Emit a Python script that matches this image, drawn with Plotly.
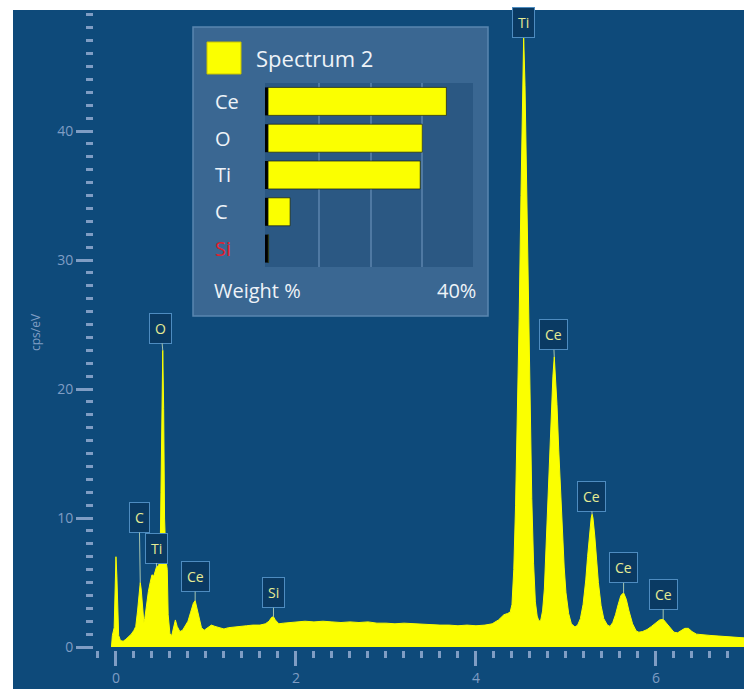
import plotly.graph_objects as go
import numpy as np

# ---- EDS spectrum (energy in keV, intensity in cps/eV) ----
energy_kev = [
    -0.05, -0.04, -0.02, -0.01, 0.00, 0.01, 0.02, 0.03, 0.05, 0.08,
    0.11, 0.14, 0.17, 0.20, 0.22, 0.24, 0.26, 0.27, 0.28, 0.30,
    0.31, 0.32, 0.34, 0.36, 0.38, 0.40, 0.42, 0.44, 0.45, 0.47,
    0.49, 0.50, 0.51, 0.52, 0.53, 0.54, 0.555, 0.57, 0.58, 0.60,
    0.62, 0.64, 0.66, 0.68, 0.71, 0.74, 0.77, 0.80, 0.83, 0.86,
    0.88, 0.90, 0.92, 0.95, 0.98, 1.02, 1.06, 1.10, 1.15, 1.20,
    1.25, 1.30, 1.38, 1.45, 1.52, 1.60, 1.66, 1.70, 1.73, 1.75,
    1.77, 1.81, 1.86, 1.92, 2.00, 2.10, 2.20, 2.30, 2.40, 2.50,
    2.60, 2.70, 2.80, 2.90, 3.00, 3.10, 3.20, 3.30, 3.40, 3.50,
    3.60, 3.70, 3.80, 3.90, 4.00, 4.10, 4.18, 4.25, 4.31, 4.35,
    4.38, 4.40, 4.42, 4.44, 4.46, 4.48, 4.50, 4.515, 4.53, 4.545,
    4.56, 4.58, 4.60, 4.62, 4.64, 4.66, 4.68, 4.70, 4.72, 4.74,
    4.76, 4.78, 4.80, 4.82, 4.84, 4.855, 4.87, 4.885, 4.90, 4.92,
    4.94, 4.96, 4.98, 5.00, 5.03, 5.06, 5.10, 5.13, 5.16, 5.19,
    5.22, 5.24, 5.26, 5.28, 5.29, 5.30, 5.32, 5.34, 5.36, 5.39,
    5.42, 5.46, 5.49, 5.52, 5.55, 5.58, 5.61, 5.64, 5.67, 5.70,
    5.74, 5.78, 5.81, 5.85, 5.90, 5.95, 6.00, 6.04, 6.08, 6.11,
    6.15, 6.20, 6.24, 6.28, 6.32, 6.36, 6.40, 6.45, 6.50, 6.60,
    6.70, 6.80, 6.90, 7.00,
]
counts_cps_ev = [
    0.0, 0.9, 1.5, 3.5, 7.0, 5.5, 1.8, 0.9, 0.5, 0.45,
    0.6, 0.8, 1.0, 1.3, 1.6, 2.8, 4.6, 5.0, 4.5, 2.6,
    1.9, 2.2, 3.5, 4.3, 5.0, 5.6, 5.5, 5.9, 6.2, 6.3,
    6.6, 12.0, 19.0, 23.0, 18.5, 10.0, 6.8, 6.0, 2.5, 1.0,
    0.9, 1.4, 2.1, 1.6, 1.2, 1.3, 1.6, 2.0, 2.7, 3.4,
    3.6, 3.0, 2.2, 1.5, 1.3, 1.5, 1.7, 1.6, 1.5, 1.4,
    1.5, 1.55, 1.6, 1.65, 1.7, 1.7, 1.8, 2.0, 2.3, 2.35,
    2.1, 1.8, 1.85, 1.9, 1.95, 2.0, 1.95, 2.0, 1.95, 1.9,
    1.95, 1.9, 1.95, 1.85, 1.85, 1.8, 1.85, 1.8, 1.75, 1.75,
    1.7, 1.7, 1.65, 1.7, 1.65, 1.7, 1.8, 2.1, 2.5, 2.6,
    2.7, 3.3, 6.0, 11.0, 17.5, 25.5, 35.0, 42.5, 47.3, 43.5,
    37.5, 28.0, 19.0, 11.5, 6.5, 3.5, 2.4, 2.0, 2.1, 2.8,
    4.5, 8.0, 11.8, 15.0, 18.5, 21.0, 22.5, 21.0, 18.8, 15.2,
    12.0, 9.0, 6.2, 4.2, 2.6, 1.8, 1.55, 1.7, 2.2, 3.3,
    5.2, 7.0, 8.8, 10.0, 10.3, 10.0, 8.6, 6.8, 5.0, 3.2,
    2.2, 1.7, 1.6, 1.9, 2.5, 3.3, 4.0, 4.2, 3.7, 2.8,
    1.8, 1.25, 1.15, 1.2, 1.35, 1.6, 1.9, 2.1, 2.15, 1.9,
    1.5, 1.15, 1.1, 1.3, 1.45, 1.45, 1.2, 1.0, 0.95, 0.9,
    0.85, 0.8, 0.75, 0.7,
]

# ---- identified peaks ----
peak_names = ["Ti", "O", "C", "Ti", "Ce", "Si", "Ce", "Ce", "Ce", "Ce"]
peak_energy = [4.53, 0.52, 0.27, 0.45, 0.88, 1.75, 4.87, 5.29, 5.64, 6.08]
# label box offsets from the peak apex, in pixels
peak_offsets = [(0, -14), (-2, -22), (-1, -65), (0, -19), (0, -24),
                (0, -24), (-1, -22), (-1, -18), (0, -25), (0, -25)]

# ---- quantification (weight %) ----
elements = ["Ce", "O", "Ti", "C", "Si"]
weight_pct = [34.8, 30.1, 29.7, 4.3, 0.1]
element_colors = ["#eef3f8", "#eef3f8", "#eef3f8", "#eef3f8", "#e3202c"]

x_ticks = [0, 2, 4, 6]
y_ticks = [0, 10, 20, 30, 40]

BG = "#0e4a7a"
TICK = "#7f9dc4"
YELLOW = "#fbff00"
FONT = "Open Sans"

W, H = 744, 689
ML, MR, MT, MB = 94, 0, 10, 39
pw, ph = W - ML - MR, H - MT - MB


def px_x(px):
    return (px - ML) / pw


def px_y(py):
    return (H - MB - py) / ph


fig = go.Figure()

fig.add_trace(go.Scatter(
    x=energy_kev, y=counts_cps_ev, mode="lines",
    line=dict(color=YELLOW, width=1), fill="tozeroy", fillcolor=YELLOW,
    hoverinfo="skip", showlegend=False,
))

# inset weight % bars: black base strip + yellow bar
fig.add_trace(go.Bar(
    y=elements, x=[0.6] * len(elements), base=[-0.6] * len(elements),
    orientation="h", marker=dict(color="#000000", line=dict(width=0)),
    xaxis="x2", yaxis="y2", showlegend=False, hoverinfo="skip",
))
fig.add_trace(go.Bar(
    y=elements, x=weight_pct, orientation="h",
    marker=dict(color=YELLOW, line=dict(color="rgba(20,30,20,0.7)", width=1)),
    xaxis="x2", yaxis="y2", showlegend=False, hoverinfo="skip",
))

shapes = [
    # dark blue background
    dict(type="rect", xref="paper", yref="paper", x0=px_x(13), x1=px_x(W + 2),
         y0=px_y(H + 2), y1=px_y(10), fillcolor=BG, line=dict(width=0), layer="below"),
    # legend / quantification panel
    dict(type="rect", xref="paper", yref="paper", x0=px_x(193), x1=px_x(488),
         y0=px_y(316), y1=px_y(27), fillcolor="#3a6792",
         line=dict(color="#5a86b0", width=1.5), layer="below"),
    dict(type="rect", xref="paper", yref="paper", x0=px_x(265), x1=px_x(473),
         y0=px_y(267), y1=px_y(83), fillcolor="#2b5883",
         line=dict(width=0), layer="below"),
    # colour swatch of the spectrum
    dict(type="rect", xref="paper", yref="paper", x0=px_x(207), x1=px_x(241),
         y0=px_y(74), y1=px_y(42), fillcolor=YELLOW,
         line=dict(color="#c9c400", width=1), layer="below"),
]

annotations = []
e_arr = np.array(energy_kev)
c_arr = np.array(counts_cps_ev)
for name, e, (ax, ay) in zip(peak_names, peak_energy, peak_offsets):
    yv = float(np.interp(e, e_arr, c_arr))
    annotations.append(dict(
        x=e, y=yv, xref="x", yref="y", text=name, showarrow=True,
        arrowhead=0, arrowwidth=1, arrowcolor="#a6c4ae", ax=ax, ay=ay,
        font=dict(family=FONT, size=14, color="#e6ec94"),
        bgcolor="#0a3a63", bordercolor="#4e8cc0", borderwidth=1, borderpad=5,
        standoff=0,
    ))

for el, col in zip(elements, element_colors):
    annotations.append(dict(
        x=px_x(213), y=el, xref="paper", yref="y2", text=el, showarrow=False,
        xanchor="left", yanchor="middle",
        font=dict(family=FONT, size=20, color=col),
    ))

annotations += [
    dict(x=px_x(254), y=px_y(58), xref="paper", yref="paper", text="Spectrum 2",
         showarrow=False, xanchor="left", yanchor="middle",
         font=dict(family=FONT, size=22, color="#eef3f8")),
    dict(x=px_x(212), y=px_y(290), xref="paper", yref="paper", text="Weight %",
         showarrow=False, xanchor="left", yanchor="middle",
         font=dict(family=FONT, size=20, color="#eef3f8")),
    dict(x=px_x(478), y=px_y(290), xref="paper", yref="paper", text="40%",
         showarrow=False, xanchor="right", yanchor="middle",
         font=dict(family=FONT, size=20, color="#eef3f8")),
    dict(x=px_x(35), y=px_y(332), xref="paper", yref="paper", text="cps/eV",
         showarrow=False, textangle=-90, xanchor="center", yanchor="middle",
         font=dict(family=FONT, size=12, color=TICK)),
]

fig.update_layout(
    width=W, height=H,
    margin=dict(l=ML, r=MR, t=MT, b=MB, pad=0),
    paper_bgcolor="white", plot_bgcolor="rgba(0,0,0,0)",
    font=dict(family=FONT),
    barmode="overlay", bargap=0.24,
    shapes=shapes, annotations=annotations,
    xaxis=dict(
        range=[-0.244, 6.978], domain=[0, 1], showgrid=False, zeroline=False,
        showline=False, tickvals=x_ticks, ticks="outside", ticklen=15,
        tickwidth=3, tickcolor=TICK, tickfont=dict(size=14, color=TICK),
        minor=dict(dtick=0.2, tick0=0, ticks="outside", ticklen=7, tickwidth=3,
                   tickcolor=TICK, showgrid=False),
    ),
    yaxis=dict(
        range=[-0.23, 49.38], domain=[0, 1], showgrid=False, zeroline=False,
        showline=False, tickvals=y_ticks, ticks="outside", ticklen=17,
        tickwidth=3, tickcolor=TICK, tickfont=dict(size=14, color=TICK),
        minor=dict(dtick=1, tick0=0, ticks="outside", ticklen=7, tickwidth=3,
                   tickcolor=TICK, showgrid=False),
    ),
    xaxis2=dict(
        domain=[px_x(265), px_x(473)], range=[-0.6, 40], anchor="y2",
        showticklabels=False, showgrid=True, gridcolor="#4f79a3", gridwidth=1.5,
        tickvals=[10, 20, 30], zeroline=False, showline=False, ticks="",
    ),
    yaxis2=dict(
        domain=[px_y(267), px_y(83)], anchor="x2", showticklabels=False,
        categoryorder="array", categoryarray=elements, autorange="reversed",
        showgrid=False, zeroline=False, showline=False, ticks="",
    ),
)

fig.write_html("out.html")
